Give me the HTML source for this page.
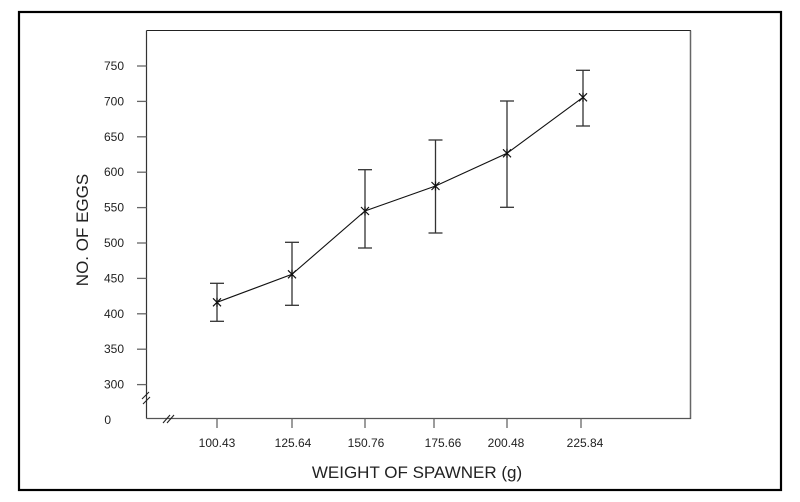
<!DOCTYPE html>
<html><head><meta charset="utf-8"><style>
html,body{margin:0;padding:0;background:#fff;}
svg{display:block;}
text{font-family:"Liberation Sans",Arial,sans-serif;fill:#222;}
</style></head><body>
<svg width="800" height="502" viewBox="0 0 800 502" xmlns="http://www.w3.org/2000/svg">
<rect x="0" y="0" width="800" height="502" fill="#fff"/>
<!-- outer frame -->
<rect x="19" y="12" width="762" height="478" fill="none" stroke="#000" stroke-width="2.2"/>
<!-- plot frame -->
<line x1="146.5" y1="30.5" x2="691" y2="30.5" stroke="#222" stroke-width="1"/>
<line x1="690.5" y1="30.5" x2="690.5" y2="419" stroke="#666" stroke-width="1.5"/>
<line x1="146.5" y1="30.5" x2="146.5" y2="418.5" stroke="#333" stroke-width="1.2"/>
<line x1="146.5" y1="418.5" x2="691" y2="418.5" stroke="#555" stroke-width="1.3"/>
<!-- y ticks -->
<g stroke="#666" stroke-width="1.3">
<line x1="137" y1="66" x2="146.5" y2="66"/>
<line x1="137" y1="101.4" x2="146.5" y2="101.4"/>
<line x1="137" y1="136.8" x2="146.5" y2="136.8"/>
<line x1="137" y1="172.2" x2="146.5" y2="172.2"/>
<line x1="137" y1="207.6" x2="146.5" y2="207.6"/>
<line x1="137" y1="243" x2="146.5" y2="243"/>
<line x1="137" y1="278.4" x2="146.5" y2="278.4"/>
<line x1="137" y1="313.8" x2="146.5" y2="313.8"/>
<line x1="137" y1="349.2" x2="146.5" y2="349.2"/>
<line x1="137" y1="384.6" x2="146.5" y2="384.6"/>
</g>
<g font-size="12" text-anchor="end">
<text x="124" y="70">750</text>
<text x="124" y="105.4">700</text>
<text x="124" y="140.8">650</text>
<text x="124" y="176.2">600</text>
<text x="124" y="211.6">550</text>
<text x="124" y="247">500</text>
<text x="124" y="282.4">450</text>
<text x="124" y="317.8">400</text>
<text x="124" y="353.2">350</text>
<text x="124" y="388.6">300</text>
<text x="111" y="424">0</text>
</g>
<!-- break marks -->
<g stroke="#222" stroke-width="1.1">
<line x1="142" y1="399" x2="149" y2="392"/>
<line x1="143" y1="404" x2="150" y2="397"/>
<line x1="163" y1="423" x2="170" y2="415"/>
<line x1="167" y1="423" x2="174" y2="415"/>
</g>
<!-- x ticks -->
<g stroke="#666" stroke-width="1.3">
<line x1="217" y1="418.5" x2="217" y2="428"/>
<line x1="292" y1="418.5" x2="292" y2="428"/>
<line x1="365" y1="418.5" x2="365" y2="428"/>
<line x1="434" y1="418.5" x2="434" y2="428"/>
<line x1="507" y1="418.5" x2="507" y2="428"/>
<line x1="581" y1="418.5" x2="581" y2="428"/>
</g>
<g font-size="12" text-anchor="middle">
<text x="217" y="447">100.43</text>
<text x="293" y="447">125.64</text>
<text x="366" y="447">150.76</text>
<text x="443" y="447">175.66</text>
<text x="506" y="447">200.48</text>
<text x="585" y="447">225.84</text>
</g>
<!-- axis titles -->
<text x="417" y="478" font-size="17" text-anchor="middle">WEIGHT OF SPAWNER (g)</text>
<text transform="translate(88,230) rotate(-90)" font-size="17" text-anchor="middle">NO. OF EGGS</text>
<!-- error bars -->
<g stroke="#333" stroke-width="1.3">
<line x1="217" y1="283.3" x2="217" y2="321.3"/><line x1="210" y1="283.3" x2="224" y2="283.3"/><line x1="210" y1="321.3" x2="224" y2="321.3"/>
<line x1="292" y1="242.3" x2="292" y2="305.3"/><line x1="285" y1="242.3" x2="299" y2="242.3"/><line x1="285" y1="305.3" x2="299" y2="305.3"/>
<line x1="365" y1="169.7" x2="365" y2="248"/><line x1="358" y1="169.7" x2="372" y2="169.7"/><line x1="358" y1="248" x2="372" y2="248"/>
<line x1="435.5" y1="140" x2="435.5" y2="233"/><line x1="428.5" y1="140" x2="442.5" y2="140"/><line x1="428.5" y1="233" x2="442.5" y2="233"/>
<line x1="507" y1="101" x2="507" y2="207.3"/><line x1="500" y1="101" x2="514" y2="101"/><line x1="500" y1="207.3" x2="514" y2="207.3"/>
<line x1="583" y1="70.3" x2="583" y2="126"/><line x1="576" y1="70.3" x2="590" y2="70.3"/><line x1="576" y1="126" x2="590" y2="126"/>
</g>
<!-- line -->
<polyline points="217,302.3 292,274.3 365,211 435.5,186 507,153.3 583,97.3" fill="none" stroke="#111" stroke-width="1.1"/>
<!-- markers -->
<g stroke="#111" stroke-width="1.2">
<path d="M213,298.3 L221,306.3 M221,298.3 L213,306.3 M217,297.8 L217,306.8"/>
<path d="M288,270.3 L296,278.3 M296,270.3 L288,278.3 M292,269.8 L292,278.8"/>
<path d="M361,207 L369,215 M369,207 L361,215 M365,206.5 L365,215.5"/>
<path d="M431.5,182 L439.5,190 M439.5,182 L431.5,190 M435.5,181.5 L435.5,190.5"/>
<path d="M503,149.3 L511,157.3 M511,149.3 L503,157.3 M507,148.8 L507,157.8"/>
<path d="M579,93.3 L587,101.3 M587,93.3 L579,101.3 M583,92.8 L583,101.8"/>
</g>
</svg>
</body></html>
